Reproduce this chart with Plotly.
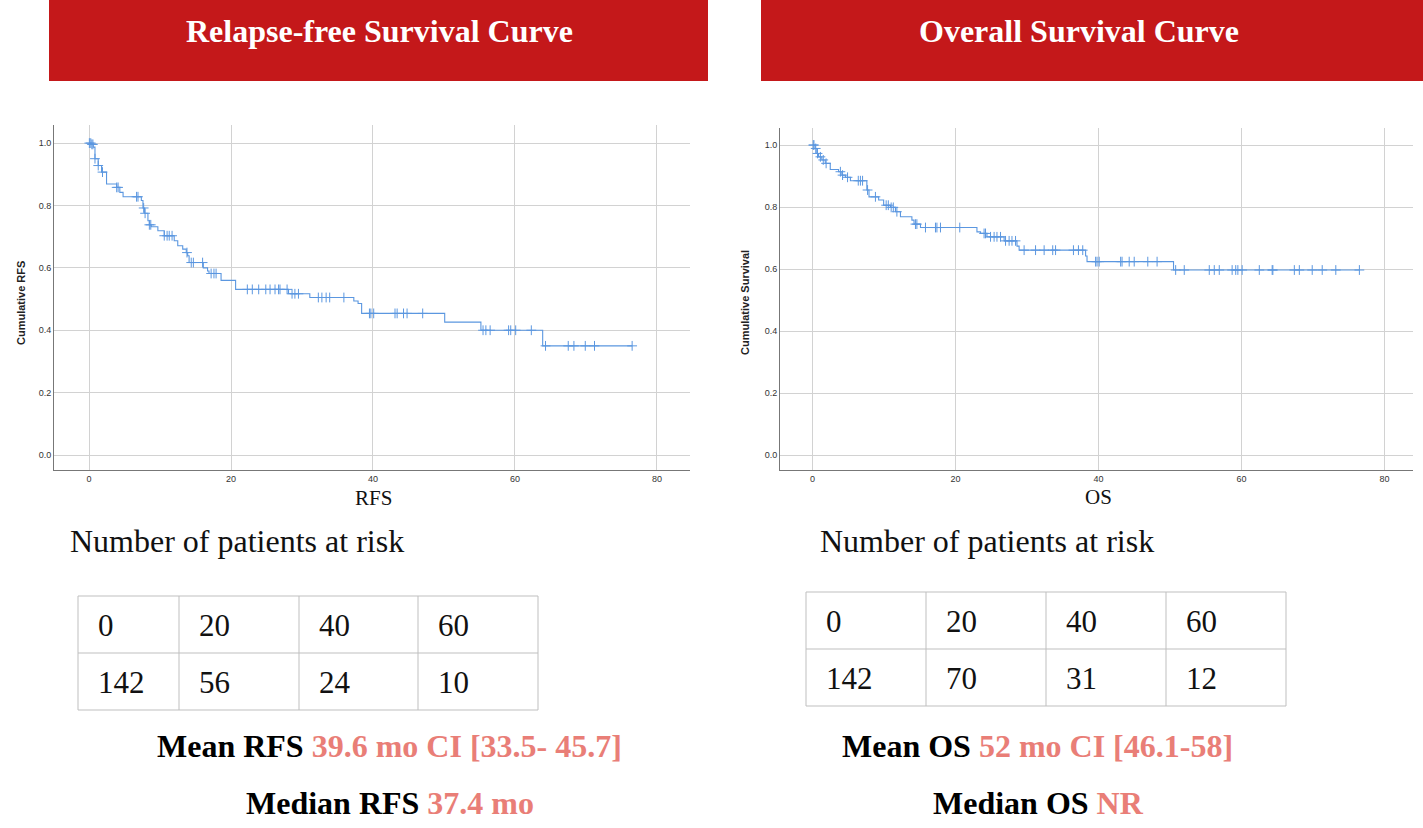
import numpy as np
import plotly.graph_objects as go

W, H = 1423, 828

# ---------------- data ----------------
titles = ["Relapse-free Survival Curve", "Overall Survival Curve"]
x_titles = ["RFS", "OS"]
y_titles = ["Cumulative RFS", "Cumulative Survival"]
x_ticks = [0, 20, 40, 60, 80]
y_ticks = [0.0, 0.2, 0.4, 0.6, 0.8, 1.0]

rfs_event_t = [0.28, 0.6, 0.84, 1.3, 1.77, 2.47, 3.9, 4.34, 4.8, 7.37, 7.6, 7.83, 8.3, 8.5,
               8.76, 9.7, 10.6, 12.0, 12.5, 13.2, 13.7, 13.9, 14.1, 16.1, 16.7, 16.9, 18.6,
               20.65, 28.1, 31.1, 37.3, 37.9, 38.4, 50.1, 55.2, 63.9]
rfs_event_s = [0.996, 0.987, 0.95, 0.928, 0.907, 0.869, 0.858, 0.842, 0.828, 0.816, 0.792,
               0.775, 0.751, 0.738, 0.732, 0.719, 0.703, 0.687, 0.671, 0.66, 0.649, 0.639,
               0.617, 0.60, 0.59, 0.582, 0.56, 0.531, 0.517, 0.505, 0.494, 0.486, 0.454,
               0.426, 0.40, 0.35]
rfs_censor_t = [0.05, 0.25, 0.4, 0.55, 0.84, 1.3, 1.9, 3.9, 4.1, 6.7, 6.9, 7.7, 7.9, 8.5, 8.7,
                10.6, 11.0, 11.3, 11.7, 13.8, 14.4, 14.7, 16.0, 17.2, 17.6, 17.9, 22.3, 23.0,
                23.9, 24.9, 25.5, 26.2, 26.7, 26.9, 27.9, 28.6, 29.0, 29.5, 32.3, 32.8, 33.4,
                33.9, 35.9, 39.5, 39.7, 40.1, 43.1, 43.4, 44.3, 44.8, 47.0, 55.5, 55.9, 56.5,
                59.1, 59.4, 60.1, 62.3, 64.3, 67.5, 68.3, 69.9, 71.2, 76.5]

os_event_t = [0.37, 0.6, 0.84, 1.3, 1.78, 2.48, 3.64, 4.1, 4.6, 5.3, 7.6, 7.9, 9.25, 9.95,
              10.9, 11.6, 12.3, 13.9, 14.2, 15.1, 23.0, 23.5, 24.4, 26.8, 28.6, 28.9, 38.2,
              38.4, 50.5]
os_event_s = [0.989, 0.973, 0.962, 0.952, 0.941, 0.921, 0.914, 0.903, 0.896, 0.885, 0.855,
              0.833, 0.823, 0.806, 0.799, 0.785, 0.769, 0.758, 0.745, 0.734, 0.72, 0.715,
              0.704, 0.691, 0.674, 0.661, 0.642, 0.624, 0.597]
os_censor_t = [0.1, 0.2, 0.45, 0.7, 1.1, 1.5, 1.9, 3.9, 4.2, 4.9, 6.4, 6.7, 7.0, 7.7, 8.8,
               10.3, 10.6, 11.0, 11.3, 11.8, 14.4, 14.6, 15.8, 17.2, 17.4, 17.9, 20.6, 24.0,
               24.2, 24.9, 25.4, 25.8, 26.3, 27.0, 27.5, 27.9, 28.4, 29.6, 31.2, 32.4, 33.6,
               34.0, 36.5, 37.2, 37.8, 39.6, 39.8, 40.1, 43.1, 43.3, 44.3, 45.0, 46.9, 48.2,
               50.8, 52.0, 55.5, 56.2, 56.9, 58.7, 59.2, 59.5, 60.1, 62.5, 64.3, 64.4, 67.4,
               68.1, 69.9, 71.3, 73.2, 76.5]

risk_times = ["0", "20", "40", "60"]
rfs_at_risk = ["142", "56", "24", "10"]
os_at_risk = ["142", "70", "31", "12"]

rfs_mean = ("Mean RFS", "39.6 mo CI [33.5- 45.7]")
rfs_median = ("Median RFS", "37.4 mo")
os_mean = ("Mean OS", "52 mo CI [46.1-58]")
os_median = ("Median OS", "NR")

# ---------------- styles ----------------
RED = "#C4181A"
BLUE = "#5B97E0"
SALMON = "#E97E77"
GRID = "#D2D2D2"
AXIS = "#777777"
SERIF = "Liberation Serif"
SANS = "Liberation Sans"


def px(x):
    return x / W


def py(y):
    return 1 - y / H


def km_path(ev_t, ev_s, censor_t):
    end = max(censor_t)
    xs = [0.0] + list(ev_t) + [end]
    ys = [1.0] + list(ev_s) + [ev_s[-1]]
    et = np.array(ev_t)
    es = np.array([1.0] + list(ev_s))
    idx = np.searchsorted(et, np.array(censor_t), side="right")
    cs = es[idx]
    return xs, ys, list(censor_t), list(cs)


fig = go.Figure()

panels = [
    dict(ev=(rfs_event_t, rfs_event_s, rfs_censor_t), xa="x", ya="y"),
    dict(ev=(os_event_t, os_event_s, os_censor_t), xa="x2", ya="y2"),
]
for p in panels:
    xs, ys, cx, cy = km_path(*p["ev"])
    fig.add_trace(go.Scatter(x=xs, y=ys, mode="lines", line=dict(color=BLUE, width=1.1, shape="hv"),
                             xaxis=p["xa"], yaxis=p["ya"], showlegend=False, hoverinfo="skip"))
    fig.add_trace(go.Scatter(x=cx, y=cy, mode="markers",
                             marker=dict(symbol="cross-thin", size=7, color=BLUE,
                                         line=dict(width=1, color=BLUE)),
                             xaxis=p["xa"], yaxis=p["ya"], showlegend=False, hoverinfo="skip"))

axis_common = dict(showgrid=True, gridcolor=GRID, gridwidth=1, zeroline=False, showline=True,
                   linecolor=AXIS, linewidth=1, ticks="", tickfont=dict(family=SANS, size=9, color="#333333"))

fig.update_layout(
    width=W, height=H, margin=dict(l=0, r=0, t=0, b=0), autosize=False,
    paper_bgcolor="white", plot_bgcolor="white",
    xaxis=dict(domain=[px(54), px(690)], range=[-4.93, 84.65], anchor="y", tickvals=x_ticks, **axis_common),
    yaxis=dict(domain=[py(470), py(125)], range=[-0.048, 1.058], anchor="x", tickvals=y_ticks,
               tickformat=".1f", **axis_common),
    xaxis2=dict(domain=[px(780), px(1413)], range=[-4.55, 84.0], anchor="y2", tickvals=x_ticks, **axis_common),
    yaxis2=dict(domain=[py(470), py(128)], range=[-0.048, 1.055], anchor="x2", tickvals=y_ticks,
                tickformat=".1f", **axis_common),
)

shapes = []
annotations = []

# banners
for (x0, x1), title, cx in zip([(49, 708), (761, 1423)], titles, [379, 1079]):
    shapes.append(dict(type="rect", xref="paper", yref="paper", x0=px(x0), x1=px(x1), y0=py(81), y1=py(0),
                       fillcolor=RED, line=dict(width=0), layer="below"))
    annotations.append(dict(xref="paper", yref="paper", x=px(cx), y=py(31), text="<b>%s</b>" % title,
                            showarrow=False, xanchor="center", yanchor="middle",
                            font=dict(family=SERIF, size=32, color="white")))

# axis titles
for xt, (cx, cy) in zip(x_titles, [(373, 498), (1098, 497)]):
    annotations.append(dict(xref="paper", yref="paper", x=px(cx), y=py(cy), text=xt, showarrow=False,
                            xanchor="center", yanchor="middle", font=dict(family=SERIF, size=21, color="#111111")))
for yt, (cx, cy) in zip(y_titles, [(21, 303), (745, 303)]):
    annotations.append(dict(xref="paper", yref="paper", x=px(cx), y=py(cy), text="<b>%s</b>" % yt,
                            showarrow=False, textangle=-90, xanchor="center", yanchor="middle",
                            font=dict(family=SANS, size=11, color="#222222")))

# number at risk
for lx in [68, 818]:
    annotations.append(dict(xref="paper", yref="paper", x=px(lx), y=py(541), text="Number of patients at risk",
                            showarrow=False, xanchor="left", yanchor="middle",
                            font=dict(family=SERIF, size=32, color="#111111")))

tables = [
    dict(cols=[78, 179, 299, 418, 538], rows=[596, 653, 710], vals=[risk_times, rfs_at_risk]),
    dict(cols=[806, 926, 1046, 1166, 1286], rows=[592, 649, 706], vals=[risk_times, os_at_risk]),
]
for t in tables:
    c, r = t["cols"], t["rows"]
    for xv in c:
        shapes.append(dict(type="line", xref="paper", yref="paper", x0=px(xv), x1=px(xv), y0=py(r[0]), y1=py(r[-1]),
                           line=dict(color="#BFBFBF", width=1)))
    for yv in r:
        shapes.append(dict(type="line", xref="paper", yref="paper", x0=px(c[0]), x1=px(c[-1]), y0=py(yv), y1=py(yv),
                           line=dict(color="#BFBFBF", width=1)))
    for ri, rowvals in enumerate(t["vals"]):
        ymid = (r[ri] + r[ri + 1]) / 2
        for ci, v in enumerate(rowvals):
            annotations.append(dict(xref="paper", yref="paper", x=px(c[ci] + 18), y=py(ymid + 1), text=v,
                                    showarrow=False, xanchor="left", yanchor="middle",
                                    font=dict(family=SERIF, size=31, color="#111111")))

# summary lines
summ = [(rfs_mean, 389, 746), (rfs_median, 390, 803), (os_mean, 1037, 746), (os_median, 1038, 803)]
for (lab, val), cx, cy in summ:
    annotations.append(dict(xref="paper", yref="paper", x=px(cx), y=py(cy),
                            text="<b>%s <span style='color:%s'>%s</span></b>" % (lab, SALMON, val),
                            showarrow=False, xanchor="center", yanchor="middle",
                            font=dict(family=SERIF, size=32, color="#000000")))

fig.update_layout(shapes=shapes, annotations=annotations)

fig.write_html("out.html", config={"displayModeBar": False},
               post_script="document.body.style.margin='0';")
